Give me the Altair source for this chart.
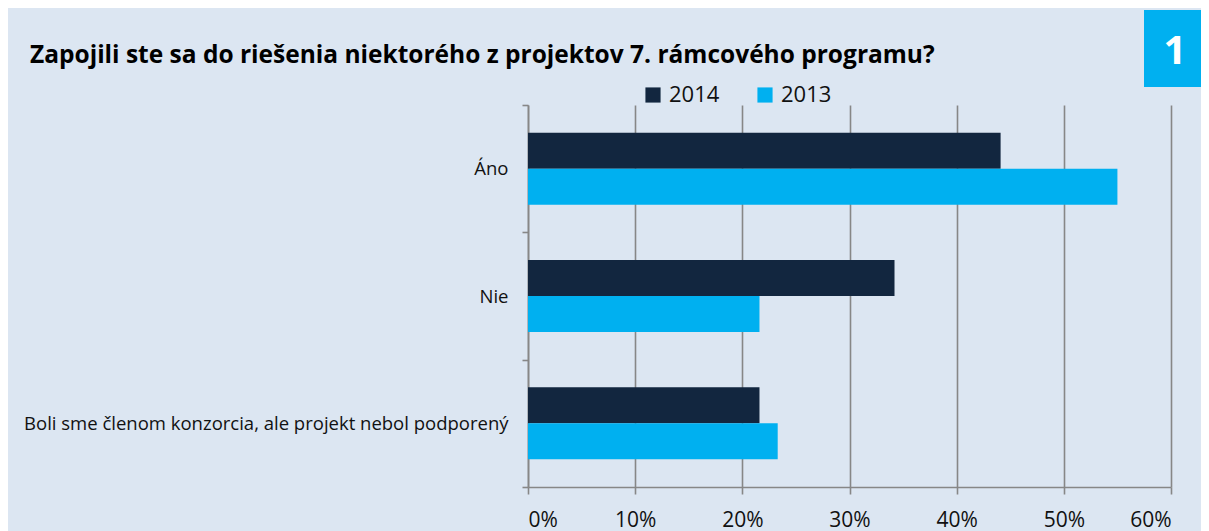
import altair as alt
import pandas as pd

categories = ["Áno", "Nie", "Boli sme členom konzorcia, ale projekt nebol podporený"]
years = ["2014", "2013"]
values_2014 = [0.441, 0.342, 0.216]
values_2013 = [0.550, 0.216, 0.233]
x_ticks = [0, 0.1, 0.2, 0.3, 0.4, 0.5, 0.6]
title_text = ["Zapojili ste sa do riešenia niektorého z projektov 7. rámcového programu?"]
badge = ["1"]

rows = []
for c, v14, v13 in zip(categories, values_2014, values_2013):
    rows.append({"kategoria": c, "rok": "2014", "hodnota": v14})
    rows.append({"kategoria": c, "rok": "2013", "hodnota": v13})
df = pd.DataFrame(rows)

FONT = "Open Sans"
GRID = "#878787"

bars = alt.Chart(df).mark_bar().encode(
    x=alt.X("hodnota:Q",
            scale=alt.Scale(domain=[0, 0.6], nice=False, zero=True),
            axis=alt.Axis(values=x_ticks, format=".0%", title=None, grid=True,
                          gridColor=GRID, gridWidth=1.6, domainColor=GRID, domainWidth=1.6,
                          tickColor=GRID, tickWidth=1.6, tickSize=7,
                          labelFontSize=21, labelColor="#111111", labelPadding=15,
                          labelFont=FONT)),
    y=alt.Y("kategoria:N", sort=categories,
            scale=alt.Scale(paddingInner=0, paddingOuter=0),
            axis=alt.Axis(title=None, tickBand="extent", tickSize=6, tickColor=GRID,
                          tickWidth=1.6, domainColor=GRID, domainWidth=1.6,
                          labelFontSize=18.5, labelColor="#111111", labelPadding=14,
                          labelLimit=600, labelFont=FONT, grid=False)),
    yOffset=alt.YOffset("rok:N", sort=years,
                        scale=alt.Scale(paddingInner=0, paddingOuter=0.77)),
    color=alt.Color("rok:N", sort=years,
                    scale=alt.Scale(domain=years, range=["#12263f", "#00b0f0"]),
                    legend=alt.Legend(title=None, orient="none", direction="horizontal",
                                      legendX=114, legendY=-21, symbolType="square",
                                      symbolSize=230, symbolStrokeWidth=0, symbolOpacity=1,
                                      labelFontSize=22, labelFont=FONT, labelColor="#111111",
                                      labelOffset=5, columnPadding=34)),
)

title_df = pd.DataFrame({"t": title_text})
title_mark = alt.Chart(title_df).mark_text(
    color="#000000", font=FONT, fontSize=24.5, fontWeight="bold", align="left",
    baseline="alphabetic"
).encode(x=alt.value(-498), y=alt.value(-42), text="t:N")

badge_df = pd.DataFrame({"t": badge})
badge_rect = alt.Chart(badge_df).mark_rect(color="#00b0f0").encode(
    x=alt.value(616), x2=alt.value(700), y=alt.value(-95), y2=alt.value(-18)
)
badge_text = alt.Chart(badge_df).mark_text(
    color="white", font=FONT, fontSize=40, fontWeight="bold", align="center", baseline="middle"
).encode(x=alt.value(647), y=alt.value(-53), text="t:N")

chart = alt.layer(bars, title_mark, badge_rect, badge_text).properties(
    width=643, height=382,
    autosize=alt.AutoSizeParams(type="none"),
    padding={"left": 520, "top": 97, "right": 30, "bottom": 44},
).configure(background="#dce6f2").configure_view(stroke=None)

chart.save("out.html", embed_options={"renderer": "svg", "actions": False})
